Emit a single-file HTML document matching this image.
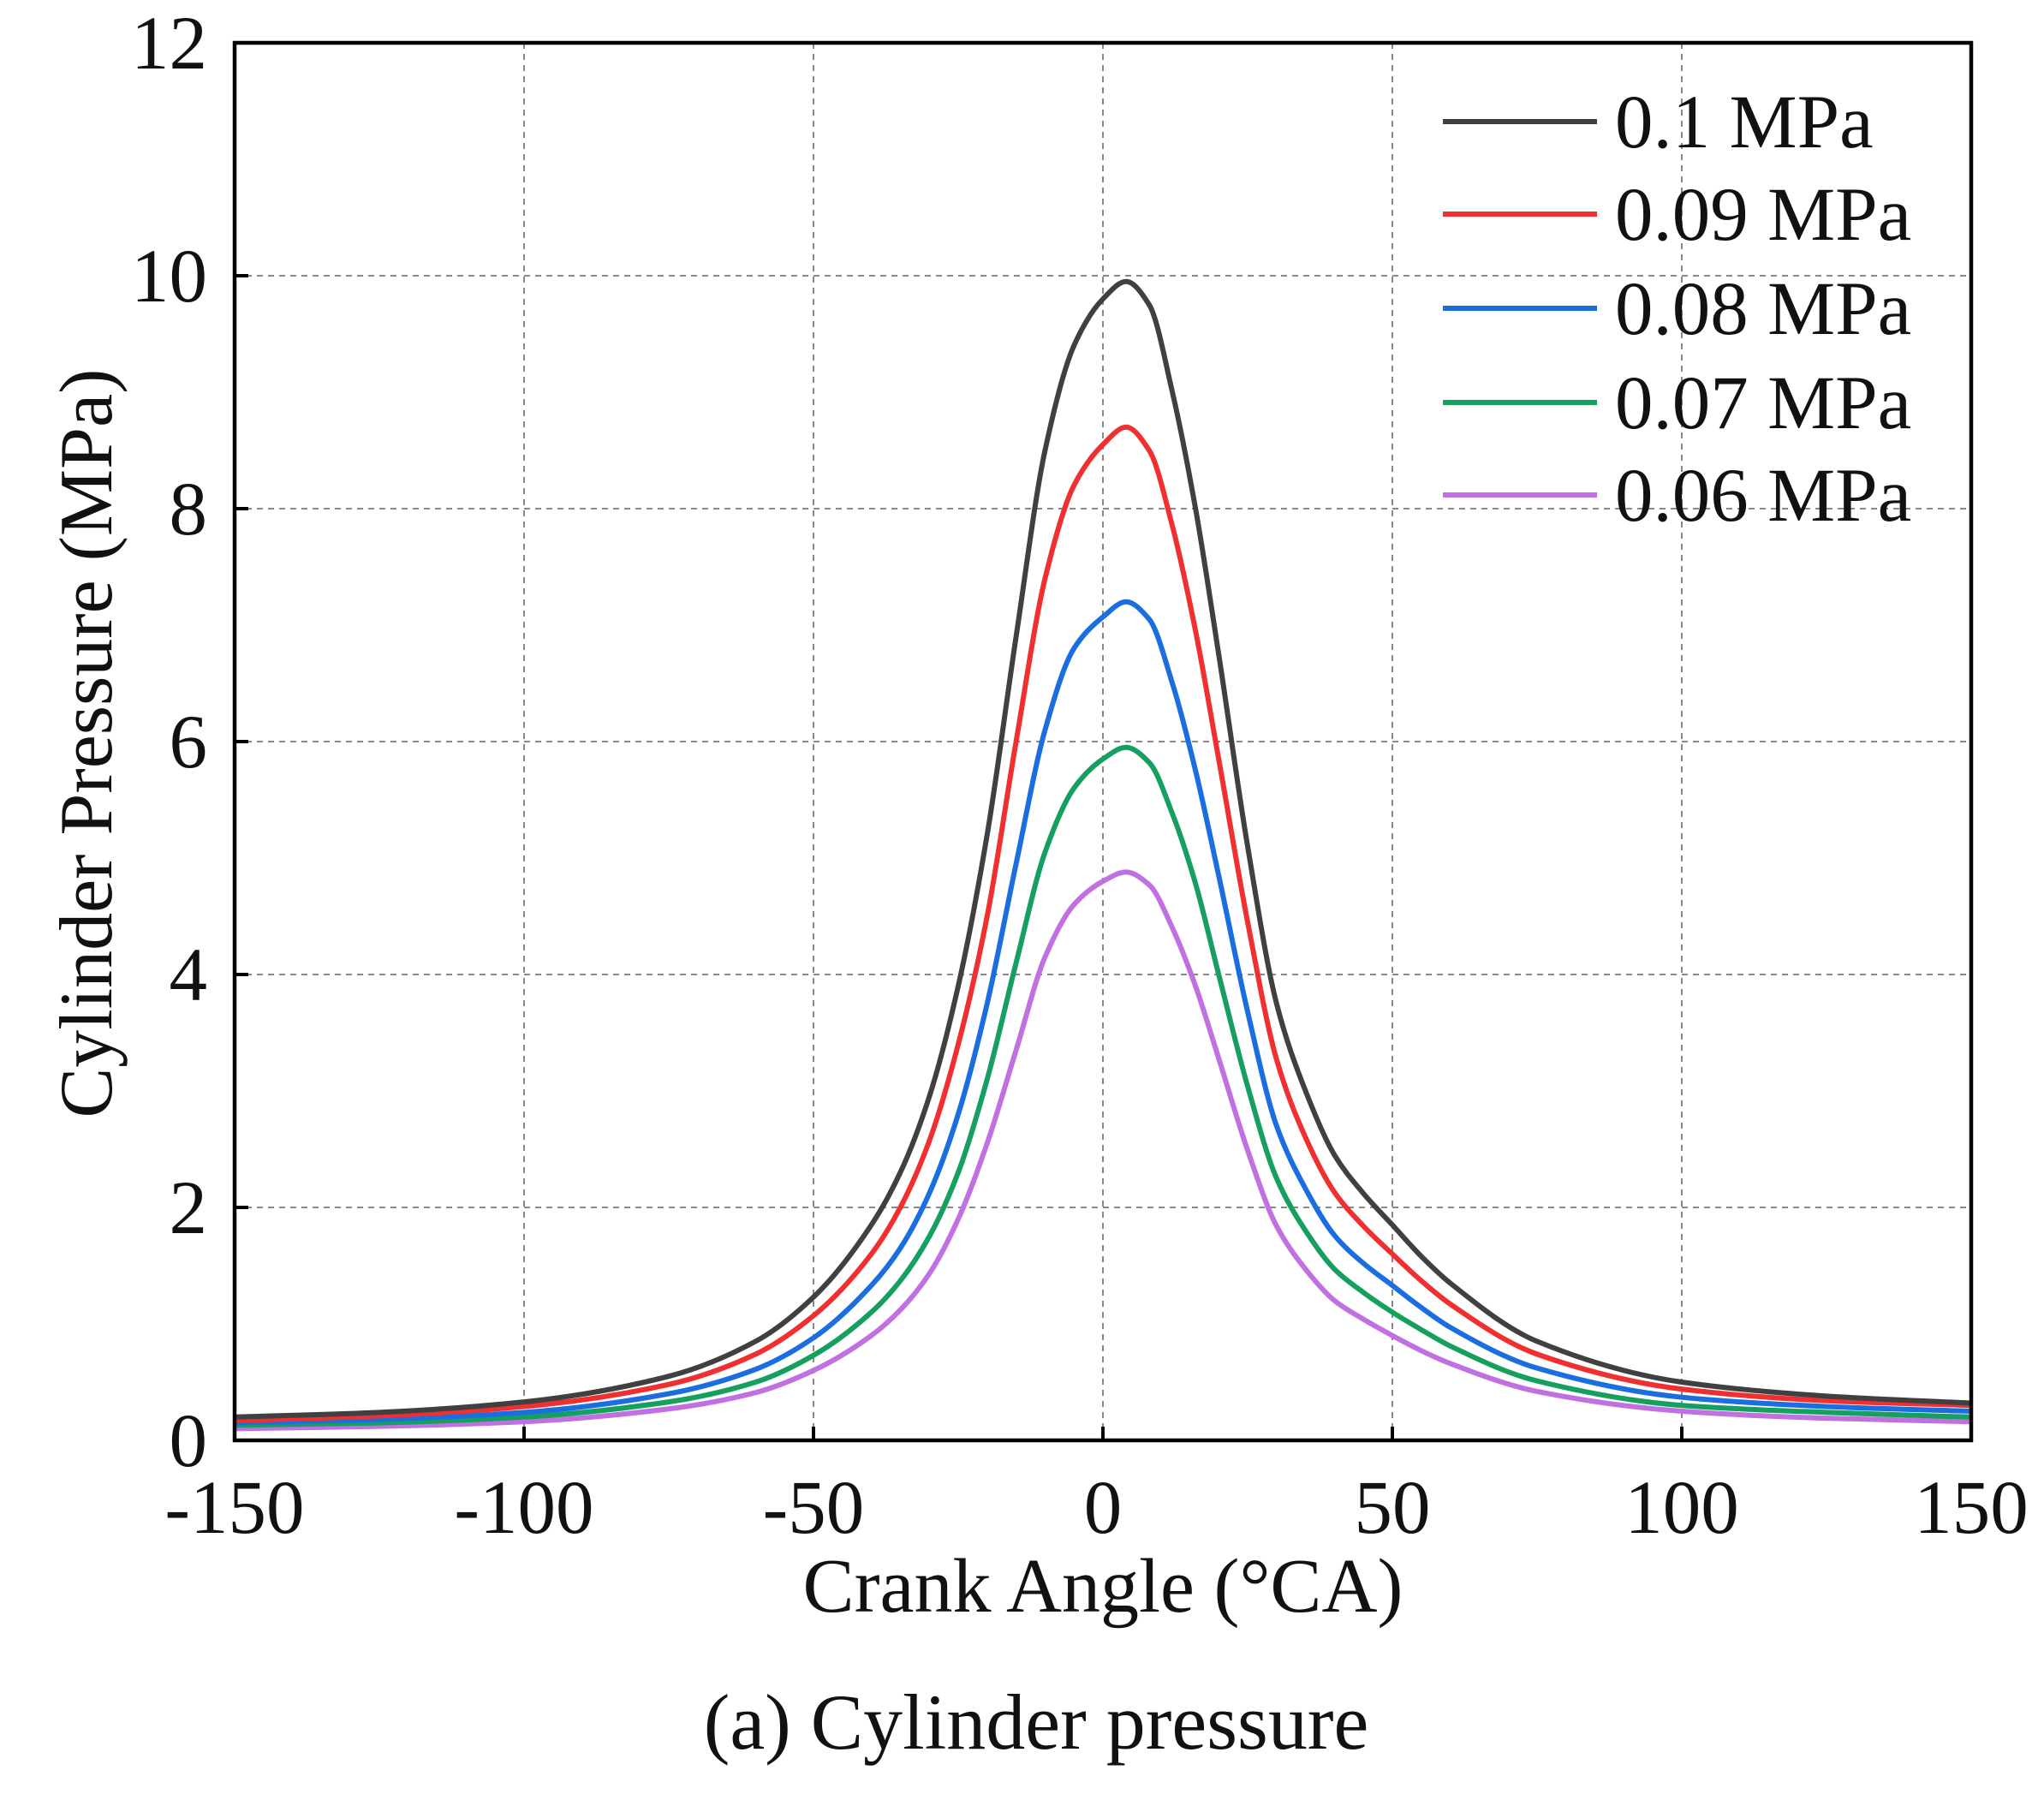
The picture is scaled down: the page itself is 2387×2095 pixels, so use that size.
<!DOCTYPE html>
<html><head><meta charset="utf-8"><style>
html,body{margin:0;padding:0;background:#fff;}
svg{display:block;}
text{font-family:"Liberation Serif",serif;fill:#111;}
</style></head><body>
<svg id="chart" width="2387" height="2095" viewBox="0 0 2387 2095">
<g id="grid"></g>
<g id="series"></g>
<rect x="274" y="50" width="2028" height="1632" fill="none" stroke="#000" stroke-width="4.5"/>
<g id="ticks"></g>
<g id="legend"></g>
<text x="110" y="868" font-size="88" text-anchor="middle" transform="rotate(-90 110 868)" dominant-baseline="middle">Cylinder Pressure (MPa)</text>
<text x="1288" y="1882" font-size="90" text-anchor="middle">Crank Angle (°CA)</text>
<text x="1210" y="2042" font-size="92" text-anchor="middle">(a) Cylinder pressure</text>
</svg>
<script>
const angles=[-150,-125,-100,-75,-60,-50,-40,-35,-30,-25,-20,-15,-10,-5,0,4,8,12,16,20,25,30,35,40,45,50,55,60,75,100,125,150];
const p010=[0.2,0.24,0.33,0.55,0.85,1.23,1.85,2.3,2.95,3.9,5.2,6.9,8.5,9.4,9.8,9.95,9.75,9.0,8.0,6.75,5.1,3.75,3.0,2.45,2.12,1.85,1.58,1.35,0.85,0.5,0.38,0.32];
const p009=[0.17,0.21,0.29,0.48,0.74,1.07,1.6,2.0,2.57,3.4,4.5,6.0,7.4,8.2,8.55,8.7,8.5,7.85,6.95,5.85,4.45,3.27,2.6,2.13,1.84,1.6,1.37,1.17,0.74,0.44,0.34,0.3];
const p008=[0.15,0.18,0.24,0.4,0.61,0.88,1.33,1.65,2.12,2.8,3.75,4.95,6.1,6.8,7.07,7.2,7.05,6.5,5.75,4.85,3.68,2.7,2.16,1.76,1.52,1.33,1.14,0.97,0.62,0.37,0.29,0.25];
const p007=[0.13,0.15,0.2,0.33,0.5,0.73,1.1,1.37,1.75,2.3,3.1,4.1,5.05,5.6,5.85,5.95,5.82,5.38,4.78,4.0,3.04,2.25,1.8,1.47,1.27,1.1,0.95,0.81,0.51,0.3,0.24,0.2];
const p006=[0.1,0.12,0.16,0.27,0.41,0.6,0.9,1.12,1.43,1.9,2.55,3.35,4.15,4.6,4.8,4.88,4.77,4.4,3.9,3.28,2.49,1.84,1.47,1.2,1.04,0.9,0.77,0.66,0.42,0.25,0.19,0.16];
const seriesNames=["0.1 MPa","0.09 MPa","0.08 MPa","0.07 MPa","0.06 MPa"];
const seriesColors=["#404040","#f03030","#1a6ee0","#16a060","#c070e0"];
const xTicks=[-150,-100,-50,0,50,100,150];
const yTicks=[0,2,4,6,8,10,12];
const allSeries=[p010,p009,p008,p007,p006];
const NS="http://www.w3.org/2000/svg";
const L=274,R=2302,T=50,B=1682;
const xs=v=>L+(v+150)/300*(R-L);
const ys=v=>B-v/12*(B-T);
function mk(tag,attrs,parent){const e=document.createElementNS(NS,tag);for(const k in attrs)e.setAttribute(k,attrs[k]);parent.appendChild(e);return e;}
const grid=document.getElementById('grid'),ticks=document.getElementById('ticks');
xTicks.forEach(t=>{
  const x=xs(t);
  if(t>-150&&t<150){const g=mk('line',{x1:x,x2:x,y1:T,y2:B,stroke:'#888','stroke-width':2,'stroke-dasharray':'7 6'},grid);
  
  }
  const tk=mk('line',{x1:x,x2:x,y1:B,y2:B-16,stroke:'#000','stroke-width':4},ticks);
  
  
  const lb=mk('text',{x:x,y:1790,'font-size':89,'text-anchor':'middle'},ticks);lb.textContent=t;
  
  
});
yTicks.forEach(t=>{
  const y=ys(t);
  if(t>0&&t<12){const g=mk('line',{x1:L,x2:R,y1:y,y2:y,stroke:'#888','stroke-width':2,'stroke-dasharray':'7 6'},grid);
  
  }
  const tk=mk('line',{x1:L,x2:L+16,y1:y,y2:y,stroke:'#000','stroke-width':4},ticks);
  
  
  const lb=mk('text',{x:242,y:y+30,'font-size':89,'text-anchor':'end'},ticks);lb.textContent=t;
  
  
});
function pathFor(vals){
  // monotone cubic (Fritsch-Carlson) in data space
  const n=angles.length,xv=angles,yv=vals,d=[],m=[];
  for(let i=0;i<n-1;i++)d.push((yv[i+1]-yv[i])/(xv[i+1]-xv[i]));
  m[0]=d[0];m[n-1]=d[n-2];
  for(let i=1;i<n-1;i++){
    if(d[i-1]*d[i]<=0)m[i]=0;
    else{const h0=xv[i]-xv[i-1],h1=xv[i+1]-xv[i];const w1=2*h1+h0,w2=h1+2*h0;m[i]=(w1+w2)/(w1/d[i-1]+w2/d[i]);}
  }
  let s='M'+xs(xv[0])+','+ys(yv[0]);
  for(let i=0;i<n-1;i++){
    const h=xv[i+1]-xv[i];
    s+=` C${xs(xv[i]+h/3)},${ys(yv[i]+m[i]*h/3)} ${xs(xv[i+1]-h/3)},${ys(yv[i+1]-m[i+1]*h/3)} ${xs(xv[i+1])},${ys(yv[i+1])}`;
  }
  return s;
}
const sg=document.getElementById('series');
allSeries.slice().reverse().forEach((vals,ri)=>{
  const i=allSeries.length-1-ri;
  const p=mk('path',{d:pathFor(vals),fill:'none',stroke:seriesColors[i],'stroke-width':6,'stroke-linejoin':'round'},sg);
  
  
});
const lg=document.getElementById('legend');
const legY=[142,250,360,470,578];
seriesNames.forEach((n,i)=>{
  const g=mk('g',{},lg);
  
  
  mk('line',{x1:1685,x2:1865,y1:legY[i],y2:legY[i],stroke:seriesColors[i],'stroke-width':6},g);
  const t=mk('text',{x:1886,y:legY[i]+30,'font-size':89},g);t.textContent=n;
});
</script>
</body></html>
